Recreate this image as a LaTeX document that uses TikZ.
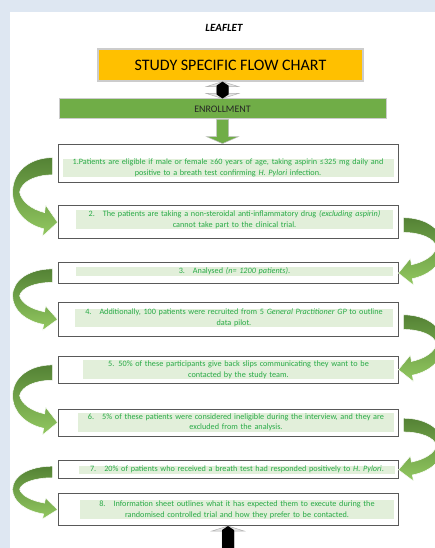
\documentclass[tikz,border=0pt]{standalone}
\usepackage{fontspec}
\setmainfont{Carlito}
\usetikzlibrary{positioning, calc}
\definecolor{bgBlue}{RGB}{222,231,242}
\definecolor{titleOrange}{RGB}{255,192,0}
\definecolor{barGreen}{RGB}{112,173,71}
\definecolor{fillGreen}{RGB}{226,239,218}
\definecolor{textGreen}{RGB}{40,170,70}
\definecolor{arrowDark}{RGB}{84,130,53}
\definecolor{arrowLight}{RGB}{146,200,96}
\newcommand{\BendLeft}[2]{%
  \path let \p1=(#1.west), \p2=(#2.west) in
    pic[yscale={((\y1)-(\y2))/55}] at (\p1) {bendarrow};}
\newcommand{\BendRight}[2]{%
  \path let \p1=(#1.east), \p2=(#2.east) in
    pic[xscale=-1, yscale={((\y1)-(\y2))/55}] at (\p1) {bendarrow};}
\newcommand{\UpDown}[2]{%
  \filldraw[updownhead] (#1) -- ($(#1)+(16,5)$) -- ($(#1)+(6,5)$) -- ($(#2)+(6,-5)$)
    -- ($(#2)+(16,-5)$) -- (#2) -- ($(#2)+(-16,-5)$) -- ($(#2)+(-6,-5)$)
    -- ($(#1)+(-6,5)$) -- ($(#1)+(-16,5)$) -- cycle;
  \fill[black] (#1) -- ($(#1)+(6,4)$) -- ($(#2)+(6,-4)$) -- (#2)
    -- ($(#2)+(-6,-4)$) -- ($(#1)+(-6,4)$) -- cycle;}
\tikzset{
    bendarrow/.pic = {
    \shade[top color=arrowDark, bottom color=arrowLight, draw=white, line width=0.5pt]
      (-5,-5) -- (-5,11)
      .. controls (-22,11) and (-36,17) .. (-38,27)
      .. controls (-36,36) and (-26,43) .. (-13,46)
      -- (-12,39) -- (0,55) -- (-15,68) -- (-14,61)
      .. controls (-32,57) and (-45,44) .. (-45,27)
      .. controls (-45,8) and (-28,-5) .. (-5,-5) -- cycle;
    },
    updownhead/.style={fill=white!90!black, draw=white!70!black, line width=0.5pt},
    stepframe/.style={draw=black!65, line width=0.8pt, fill=white, minimum width=340pt, inner sep=0pt},
    stepfill/.style={fill=fillGreen, text=textGreen, align=center, inner xsep=1pt, inner ysep=0.5pt,
      font=\fontsize{8.2}{10.5}\selectfont},
}

\begin{document}
\begin{tikzpicture}[x=1pt, y=-1pt]
    \useasboundingbox (0,0) rectangle (435,548);
    \clip (0,0) rectangle (435,548);
    \fill[bgBlue] (0,0) rectangle (435,548);
    \fill[white] (10,12) rectangle (440,560);

    \node[font=\bfseries\itshape\fontsize{11}{13}\selectfont] (leaflet) at (224,28) {LEAFLET};
    \node[fill=titleOrange, draw=white!80!black, line width=1.2pt, minimum width=265pt, minimum height=32pt,
      font=\fontsize{16}{18}\selectfont] (title) at (230.5,65) {STUDY SPECIFIC FLOW CHART};
    \node[fill=barGreen, draw=white!80!black, line width=1pt, minimum width=327pt, minimum height=20pt,
      text=black!85, font=\fontsize{10}{12}\selectfont] (enroll) at (222.5,109) {ENROLLMENT};

    % boxes
    \node[stepframe, minimum height=38pt] (b1) at (228,163) {};
    \node[stepframe, minimum height=33pt, below=23pt of b1] (b2) {};
    \node[stepframe, minimum height=21pt, below=23pt of b2] (b3) {};
    \node[stepframe, minimum height=34pt, below=18pt of b3] (b4) {};
    \node[stepframe, minimum height=27pt, below=19pt of b4] (b5) {};
    \node[stepframe, minimum height=27pt, below=25pt of b5] (b6) {};
    \node[stepframe, minimum height=18pt, below=24pt of b6] (b7) {};
    \node[stepframe, minimum height=32pt, below=14pt of b7] (b8) {};

    \node[stepfill, text width=329pt] (f1) at ($(b1)+(0,5)$)
      {1.Patients are eligible if male or female ≥60 years of age, taking aspirin ≤325 mg daily and\\
       positive to a breath test confirming \textit{H. Pylori} infection.};
    \node[stepfill, text width=315pt] (f2) at ($(b2)+(6.5,-2.5)$)
      {2.\hspace{8pt}The patients are taking a non-steroidal anti-inflammatory drug \textit{(excluding aspirin)}\\
       cannot take part to the clinical trial.};
    \node[stepfill, text width=315pt] (f3) at ($(b3)+(6.5,-1.5)$)
      {3.\hspace{8pt}Analysed \textit{(n= 1200 patients)}.};
    \node[stepfill, text width=316pt] (f4) at ($(b4)+(6,-1.5)$)
      {4.\hspace{8pt}Additionally, 100 patients were recruited from 5 \textit{General Practitioner GP} to outline\\
       data pilot.};
    \node[stepfill, text width=309pt] (f5) at ($(b5)+(10.5,0)$)
      {5. 50\% of these participants give back slips communicating they want to be\\
       contacted by the study team.};
    \node[stepfill, text width=314pt] (f6) at ($(b6)+(8,0)$)
      {6.\hspace{8pt}5\% of these patients were considered ineligible during the interview, and they are\\
       excluded from the analysis.};
    \node[stepfill, text width=314pt] (f7) at ($(b7)+(9,0)$)
      {7.\hspace{8pt}20\% of patients who received a breath test had responded positively to \textit{H. Pylori}.};
    \node[stepfill, text width=312pt] (f8) at ($(b8)+(9,0)$)
      {8.\hspace{8pt}Information sheet outlines what it has expected them to execute during the\\
       randomised controlled trial and how they prefer to be contacted.};

    % arrows
    \coordinate (ua) at (title.south -| enroll.north);
    \UpDown{ua}{enroll.north}
    \coordinate (tip) at (enroll.south |- b1.north);
    \filldraw[fill=barGreen, draw=white!75!black, line width=0.5pt]
      ($(enroll.south)+(-6,0)$) -- ($(enroll.south)+(6,0)$) -- ($(tip)+(6,-7)$)
      -- ($(tip)+(16,-7)$) -- (tip) -- ($(tip)+(-16,-7)$) -- ($(tip)+(-6,-7)$) -- cycle;

    \BendLeft{b1}{b2}
    \BendRight{b2}{b3}
    \BendLeft{b3}{b4}
    \BendRight{b4}{b5}
    \BendLeft{b5}{b6}
    \BendRight{b6}{b7}
    \BendLeft{b7}{b8}

    \coordinate (out) at ($(b8.south)+(0,34)$);
    \UpDown{b8.south}{out}
\end{tikzpicture}
\end{document}
